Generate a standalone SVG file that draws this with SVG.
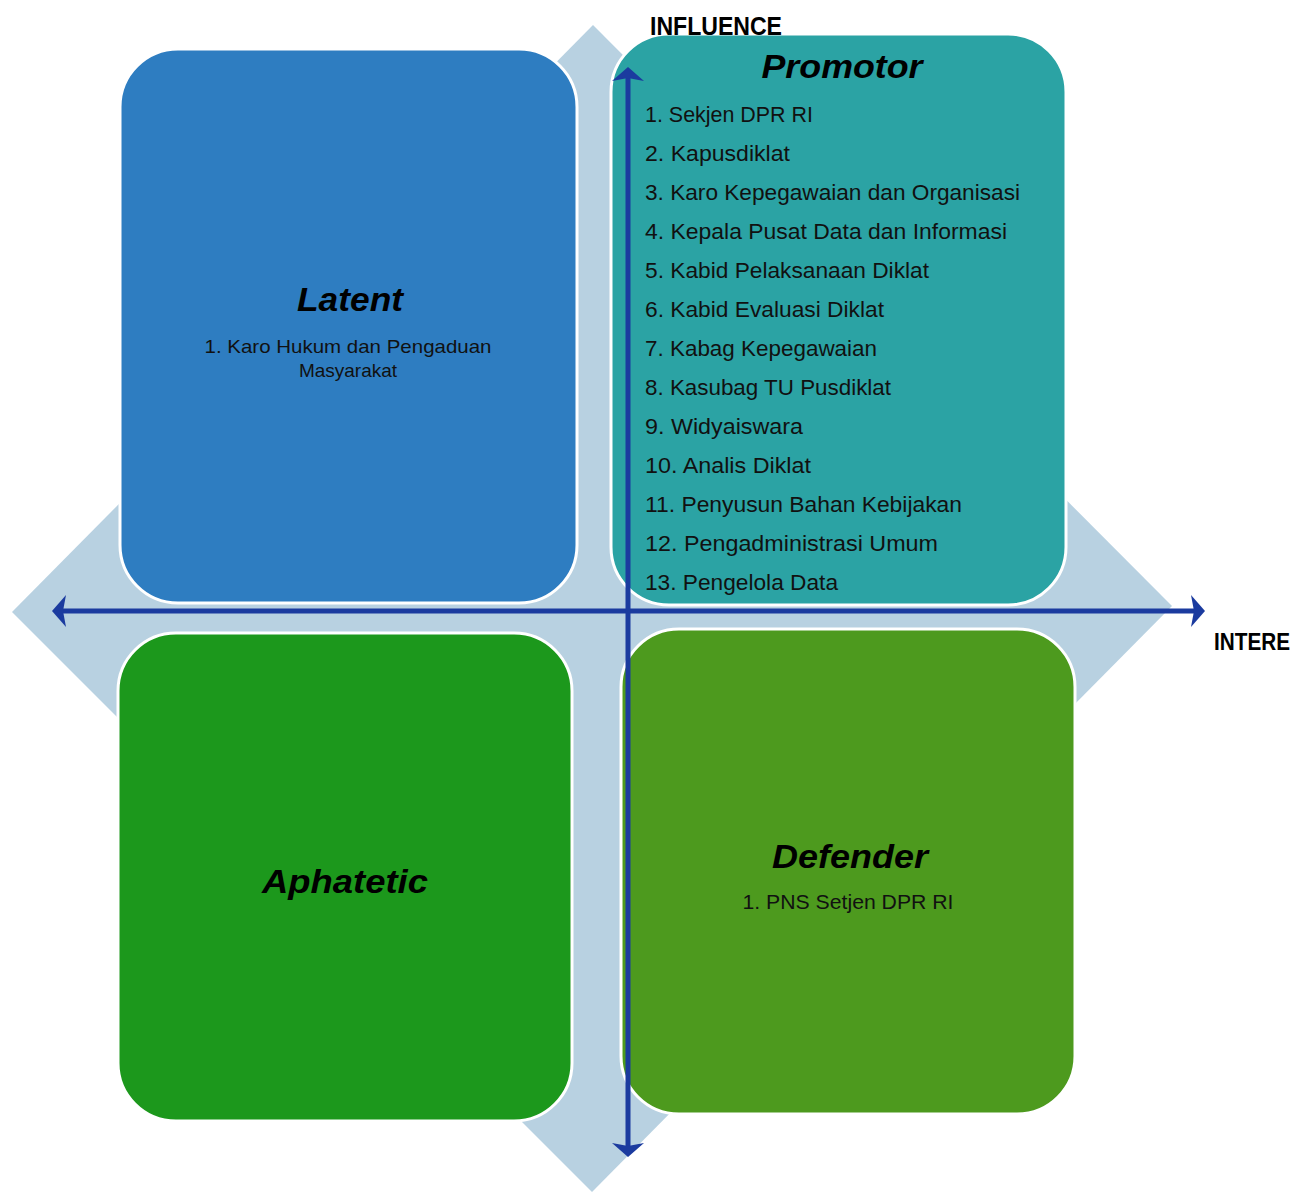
<svg xmlns="http://www.w3.org/2000/svg" width="1299" height="1193" viewBox="0 0 1299 1193">
<style>
.box{stroke:#ffffff;stroke-width:3}
.title{font-family:"Liberation Sans",Arial,sans-serif;font-weight:bold;font-style:italic;font-size:34px;fill:#000;text-anchor:middle}
.item{font-family:"Liberation Sans",Arial,sans-serif;font-size:22px;fill:#111}
.sub{font-family:"Liberation Sans",Arial,sans-serif;font-size:19px;fill:#111;text-anchor:middle}
.sub2{font-family:"Liberation Sans",Arial,sans-serif;font-size:21px;fill:#111;text-anchor:middle}
.axlabel{font-family:"Liberation Sans",Arial,sans-serif;font-weight:bold;font-size:25px;fill:#000}
.axlabel2{font-family:"Liberation Sans",Arial,sans-serif;font-weight:bold;font-size:23px;fill:#000}
.axis{stroke:#1b3b9f;stroke-width:5;fill:none}
</style>
<defs>
<marker id="ah" markerUnits="userSpaceOnUse" markerWidth="30" markerHeight="36" viewBox="-10 -18 20 36" refX="0" refY="0" orient="auto-start-reverse" overflow="visible">
<path d="M8,0 L-6,-16 L-3,0 L-6,16 Z" fill="#1b3b9f"/>
</marker>
</defs>
<rect width="1299" height="1193" fill="#ffffff"/>
<g id="background">
<polygon points="593,25 1172,606 592,1192 12,612" fill="#b8d1e1"/>
</g>
<g id="latent">
<rect class="box" x="120" y="49" width="457" height="554" rx="58" fill="#2e7dc1"/>
<text class="title" x="350" y="311" textLength="106" lengthAdjust="spacingAndGlyphs">Latent</text>
<text class="sub" x="348" y="353" textLength="287" lengthAdjust="spacingAndGlyphs">1. Karo Hukum dan Pengaduan</text>
<text class="sub" x="348" y="377">Masyarakat</text>
</g>
<g id="promotor">
<rect class="box" x="611" y="34" width="455" height="571" rx="58" fill="#2ba3a4"/>
<text class="title" x="842" y="78" textLength="161" lengthAdjust="spacingAndGlyphs">Promotor</text>
<text class="item" x="645" y="122" textLength="168" lengthAdjust="spacingAndGlyphs">1. Sekjen DPR RI</text>
<text class="item" x="645" y="161" textLength="145" lengthAdjust="spacingAndGlyphs">2. Kapusdiklat</text>
<text class="item" x="645" y="200" textLength="375" lengthAdjust="spacingAndGlyphs">3. Karo Kepegawaian dan Organisasi</text>
<text class="item" x="645" y="239" textLength="362" lengthAdjust="spacingAndGlyphs">4. Kepala Pusat Data dan Informasi</text>
<text class="item" x="645" y="278" textLength="284" lengthAdjust="spacingAndGlyphs">5. Kabid Pelaksanaan Diklat</text>
<text class="item" x="645" y="317" textLength="239" lengthAdjust="spacingAndGlyphs">6. Kabid Evaluasi Diklat</text>
<text class="item" x="645" y="356" textLength="232" lengthAdjust="spacingAndGlyphs">7. Kabag Kepegawaian</text>
<text class="item" x="645" y="395" textLength="246" lengthAdjust="spacingAndGlyphs">8. Kasubag TU Pusdiklat</text>
<text class="item" x="645" y="434" textLength="158" lengthAdjust="spacingAndGlyphs">9. Widyaiswara</text>
<text class="item" x="645" y="473" textLength="166" lengthAdjust="spacingAndGlyphs">10. Analis Diklat</text>
<text class="item" x="645" y="512" textLength="317" lengthAdjust="spacingAndGlyphs">11. Penyusun Bahan Kebijakan</text>
<text class="item" x="645" y="551" textLength="293" lengthAdjust="spacingAndGlyphs">12. Pengadministrasi Umum</text>
<text class="item" x="645" y="590" textLength="193" lengthAdjust="spacingAndGlyphs">13. Pengelola Data</text>
</g>
<g id="aphatetic">
<rect class="box" x="118" y="633" width="454" height="488" rx="58" fill="#1c981c"/>
<text class="title" x="345" y="893" textLength="166" lengthAdjust="spacingAndGlyphs">Aphatetic</text>
</g>
<g id="defender">
<rect class="box" x="621" y="629" width="454" height="485" rx="58" fill="#4d9a1e"/>
<text class="title" x="850" y="868" textLength="156" lengthAdjust="spacingAndGlyphs">Defender</text>
<text class="sub2" x="848" y="909" textLength="211" lengthAdjust="spacingAndGlyphs">1. PNS Setjen DPR RI</text>
</g>
<g id="connectors">
<line class="axis" x1="60" y1="611" x2="1197" y2="611" marker-start="url(#ah)" marker-end="url(#ah)"/>
<line class="axis" x1="628" y1="75" x2="628" y2="1149" marker-start="url(#ah)" marker-end="url(#ah)"/>
</g>
<g id="labels">
<text class="axlabel" x="650" y="35" textLength="132" lengthAdjust="spacingAndGlyphs">INFLUENCE</text>
<text class="axlabel2" x="1214" y="650" textLength="76" lengthAdjust="spacingAndGlyphs">INTERE</text>
</g>
</svg>
